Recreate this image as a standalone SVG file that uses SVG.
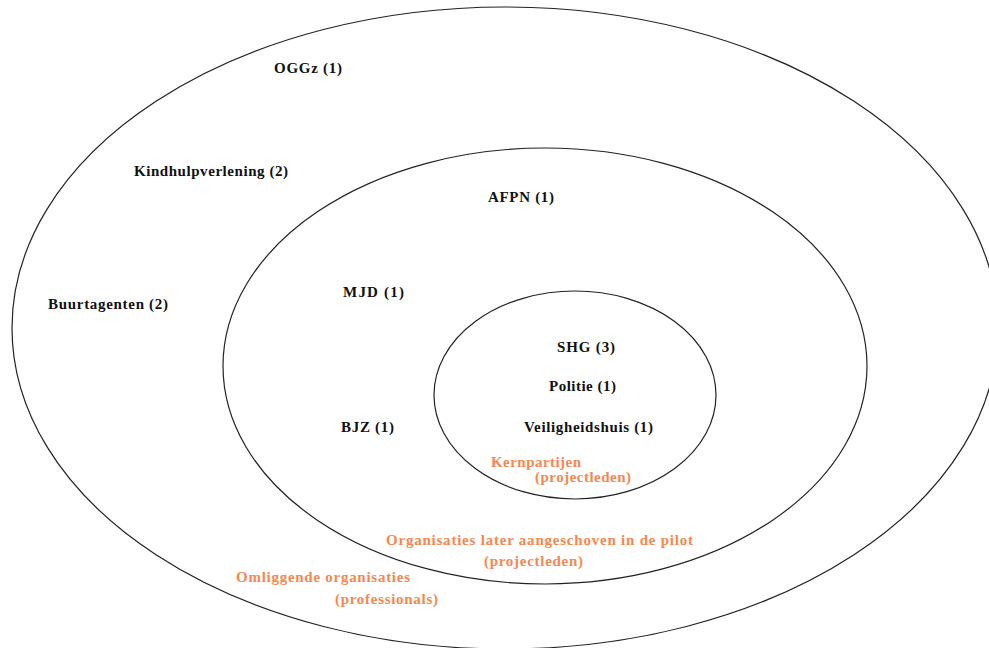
<svg xmlns="http://www.w3.org/2000/svg" width="989" height="648" viewBox="0 0 989 648">
<style>
.ring{fill:none;stroke:#222;stroke-width:1.2}
.lbl{font-family:"Liberation Serif","Times New Roman",serif;font-weight:bold;font-size:15px;fill:#111}
.cat{font-family:"Liberation Serif","Times New Roman",serif;font-weight:bold;font-size:15px;fill:#f7874f}
</style>
<rect width="989" height="648" fill="#fff"/>
<g id="outer">
<ellipse class="ring" cx="505" cy="328" rx="493" ry="321"/>
<text class="lbl" x="274" y="73" textLength="68" lengthAdjust="spacing">OGGz (1)</text>
<text class="lbl" x="134" y="176" textLength="154" lengthAdjust="spacing">Kindhulpverlening (2)</text>
<text class="lbl" x="48" y="309" textLength="120" lengthAdjust="spacing">Buurtagenten (2)</text>
<text class="cat" x="236" y="582" textLength="174" lengthAdjust="spacing">Omliggende organisaties</text>
<text class="cat" x="335" y="604" textLength="103" lengthAdjust="spacing">(professionals)</text>
</g>
<g id="middle">
<ellipse class="ring" cx="545" cy="366" rx="322" ry="218"/>
<text class="lbl" x="488" y="202" textLength="66" lengthAdjust="spacing">AFPN (1)</text>
<text class="lbl" x="343" y="297" textLength="61" lengthAdjust="spacing">MJD (1)</text>
<text class="lbl" x="341" y="432" textLength="53" lengthAdjust="spacing">BJZ (1)</text>
<text class="cat" x="386" y="545" textLength="307" lengthAdjust="spacing">Organisaties later aangeschoven in de pilot</text>
<text class="cat" x="484" y="566" textLength="99" lengthAdjust="spacing">(projectleden)</text>
</g>
<g id="inner">
<ellipse class="ring" cx="575" cy="395" rx="141" ry="104"/>
<text class="lbl" x="557" y="352" textLength="58" lengthAdjust="spacing">SHG (3)</text>
<text class="lbl" x="549" y="391" textLength="67" lengthAdjust="spacing">Politie (1)</text>
<text class="lbl" x="524" y="432" textLength="129" lengthAdjust="spacing">Veiligheidshuis (1)</text>
<text class="cat" x="491" y="467" textLength="90" lengthAdjust="spacing">Kernpartijen</text>
<text class="cat" x="535" y="482" textLength="96" lengthAdjust="spacing">(projectleden)</text>
</g>
</svg>
